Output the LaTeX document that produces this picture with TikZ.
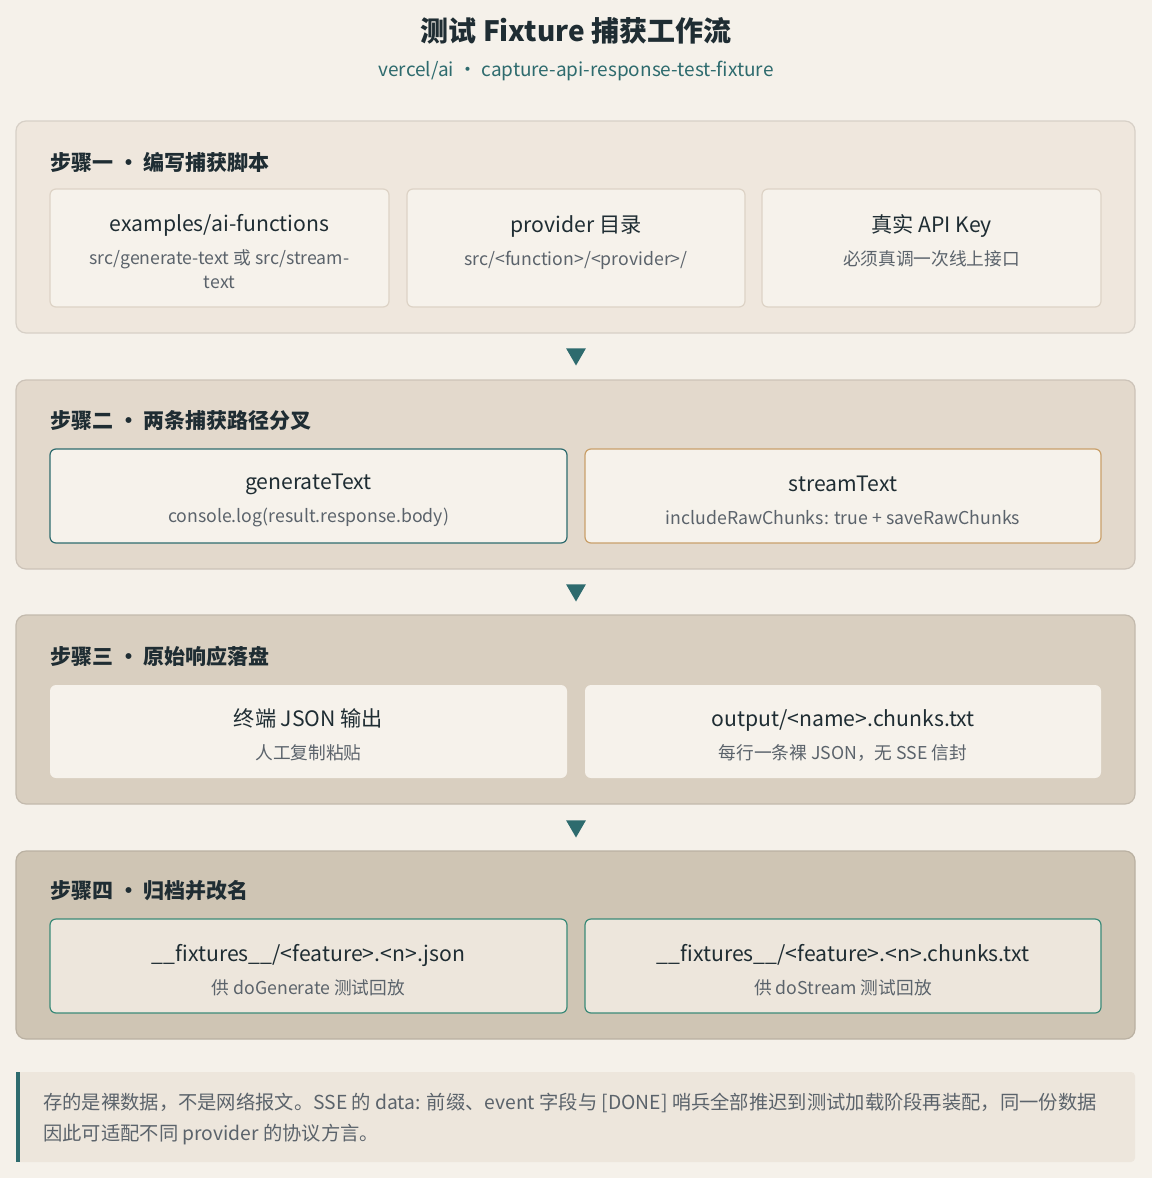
\documentclass[tikz,border=0pt]{standalone}
\usepackage{fontspec}
\setmainfont{Noto Sans CJK SC}
\usetikzlibrary{shapes.geometric}

\definecolor{pagebg}{HTML}{F5F1EA}
\definecolor{inkdark}{HTML}{1F2D33}
\definecolor{inkgray}{HTML}{5B636B}
\definecolor{tealc}{HTML}{2E6B6E}
\definecolor{sandc}{HTML}{C9A06A}
\definecolor{greenc}{HTML}{3A8A78}
\definecolor{stepa}{HTML}{EFE7DD}
\definecolor{stepb}{HTML}{E3D9CC}
\definecolor{stepc}{HTML}{D9CFC0}
\definecolor{stepd}{HTML}{CFC5B4}
\definecolor{cardfill}{HTML}{F6F2EB}
\definecolor{cardline}{HTML}{DDD3C6}
\definecolor{notefill}{HTML}{EDE6DC}

\newcommand{\cardtitle}[1]{{\fontsize{21.2}{24}\selectfont\color{inkdark}\rule{0pt}{25pt}#1}}

\begin{document}
\begin{tikzpicture}[x=1pt,y=-1pt,
panel/.style={rounded corners=10pt, fill=#1, draw=#1!90!black, line width=1.2pt, minimum width=1119pt, inner sep=0pt},
heading/.style={anchor=west, inner sep=0pt, text=inkdark, font=\fontsize{21}{24}\selectfont\bfseries},
card/.style={rounded corners=6pt, fill=cardfill, draw=cardline, line width=1.2pt, align=center, inner sep=0pt, text=inkgray, font=\fontsize{17.7}{24}\selectfont},
flow/.style={regular polygon, regular polygon sides=3, shape border rotate=180, fill=tealc, inner sep=0pt, minimum size=23pt}
]
\useasboundingbox (0,0) rectangle (1152,1178);
\fill[pagebg] (0,0) rectangle (1152,1178);

% title
\node [text=inkdark, font=\fontsize{28}{30}\selectfont\bfseries] (title) at (576,31) {测试 Fixture 捕获工作流};
\node [text=tealc, font=\fontsize{19}{22}\selectfont] (sub) at (576,71) {vercel/ai · capture-api-response-test-fixture};

% step one
\node [panel=stepa, minimum height=212pt] (p1) at (575.5,227) {};
\node [heading] (h1) at (50,162) {步骤一 • 编写捕获脚本};
\node [card, minimum width=339pt, minimum height=118pt] (c11) at (219.5,248) {\cardtitle{examples/ai-functions}\\[9pt]src/generate-text 或 src/stream-\\text};
\node [card, minimum width=338pt, minimum height=118pt] (c12) at (576,248) {\cardtitle{provider 目录}\\[9pt]src/<function>/<provider>/\\\phantom{x}};
\node [card, minimum width=339pt, minimum height=118pt] (c13) at (931.5,248) {\cardtitle{真实 API Key}\\[9pt]必须真调一次线上接口\\\phantom{x}};

\node [flow] (a1) at (576,354) {};

% step two
\node [panel=stepb, minimum height=189pt] (p2) at (575.5,474.5) {};
\node [heading] (h2) at (50,421) {步骤二 • 两条捕获路径分叉};
\node [card, draw=tealc, minimum width=517pt, minimum height=94pt] (c21) at (308.5,496) {\cardtitle{generateText}\\[9pt]console.log(result.response.body)};
\node [card, draw=sandc, minimum width=516pt, minimum height=94pt] (c22) at (843,496) {\cardtitle{streamText}\\[9pt]includeRawChunks: true + saveRawChunks};

\node [flow] (a2) at (576,590) {};

% step three
\node [panel=stepc, minimum height=189pt] (p3) at (575.5,709.5) {};
\node [heading] (h3) at (50,656) {步骤三 • 原始响应落盘};
\node [card, draw=none, minimum width=517pt, minimum height=93pt] (c31) at (308.5,731.5) {\cardtitle{终端 JSON 输出}\\[9pt]人工复制粘贴};
\node [card, draw=none, minimum width=516pt, minimum height=93pt] (c32) at (843,731.5) {\cardtitle{output/<name>.chunks.txt}\\[9pt]每行一条裸 JSON，无 SSE 信封};

\node [flow] (a3) at (576,826) {};

% step four
\node [panel=stepd, minimum height=188pt] (p4) at (575.5,945) {};
\node [heading] (h4) at (50,891) {步骤四 • 归档并改名};
\node [card, fill=notefill, draw=greenc, minimum width=517pt, minimum height=94pt] (c41) at (308.5,966) {\cardtitle{\_\_fixtures\_\_/<feature>.<n>.json}\\[9pt]供 doGenerate 测试回放};
\node [card, fill=notefill, draw=greenc, minimum width=516pt, minimum height=94pt] (c42) at (843,966) {\cardtitle{\_\_fixtures\_\_/<feature>.<n>.chunks.txt}\\[9pt]供 doStream 测试回放};

% note
\fill [notefill, rounded corners=4pt] (16,1072) rectangle (1135,1162);
\fill [tealc] (16,1072) rectangle (20,1162);
\node [anchor=north west, align=left, inner sep=0pt, text=inkgray, font=\fontsize{19.3}{31}\selectfont] (note) at (43,1093) {存的是裸数据，不是网络报文。SSE 的 data: 前缀、event 字段与 [DONE] 哨兵全部推迟到测试加载阶段再装配，同一份数据\\因此可适配不同 provider 的协议方言。};
\end{tikzpicture}
\end{document}
